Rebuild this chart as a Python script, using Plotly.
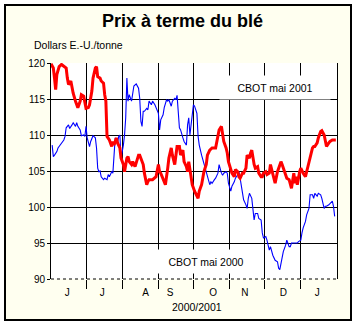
import pandas as pd
import plotly.graph_objects as go

# Wheat futures, CBOT May 2001 (red) and CBOT May 2000 (blue), US$/tonne
start = pd.Timestamp("2000-06-01")

red_day = [
    0, 2, 3, 4, 5, 7, 9, 11, 13, 14,
    15, 17, 18, 19, 21, 22, 23, 25, 26, 28,
    29, 30, 32, 33, 35, 36, 38, 39, 40, 42,
    43, 45, 46, 47, 48, 50, 52, 53, 54, 56,
    57, 59, 60, 62, 63, 65, 66, 67, 69, 70,
    72, 75, 76, 77, 79, 80, 82, 83, 84, 87,
    90, 92, 93, 94, 96, 98, 100, 101, 103, 104,
    106, 107, 108, 110, 111, 113, 114, 116, 117, 118,
    120, 121, 123, 124, 126, 127, 129, 130, 131, 133,
    134, 136, 138, 141, 143, 144, 146, 148, 150, 151,
    152, 154, 155, 157, 158, 160, 161, 162, 164, 165,
    167, 168, 170, 171, 172, 174, 175, 177, 178, 180,
    181, 182, 184, 185, 187, 188, 190, 191, 192, 194,
    195, 197, 198, 199, 201, 202, 204, 205, 206, 208,
    209, 210, 211, 213, 214, 216, 218, 219, 221, 222,
    224, 225, 226, 228, 229, 231, 232, 234, 235, 236,
    238, 239, 241, 242, 244,
]
red_val = [
    119.9, 119.3, 117.9, 116.3, 118.4, 119.5, 119.8, 119.5, 119.3, 117.9,
    117.0, 117.5, 116.3, 115.8, 114.7, 114.2, 113.8, 114.7, 115.6, 115.4,
    114.4, 113.7, 113.8, 114.2, 116.1, 117.9, 119.3, 119.5, 118.1, 117.9,
    117.5, 117.2, 115.6, 114.7, 109.8, 109.3, 108.4, 109.1, 108.6, 109.6,
    108.9, 108.2, 106.8, 105.9, 104.9, 106.8, 107.0, 106.3, 105.9, 106.3,
    105.6, 107.2, 107.2, 106.8, 105.9, 104.7, 103.1, 103.5, 103.8, 103.8,
    104.2, 105.9, 104.9, 104.7, 103.8, 103.1, 105.4, 106.8, 108.2, 107.2,
    105.9, 107.2, 108.4, 108.4, 107.2, 107.9, 106.3, 105.6, 104.9, 106.3,
    104.0, 103.1, 102.2, 101.9, 101.2, 102.2, 103.1, 104.0, 104.9, 105.9,
    107.2, 107.9, 108.2, 108.2, 109.6, 110.7, 111.2, 109.1, 108.2, 107.5,
    106.3, 105.4, 104.7, 104.2, 105.2, 104.9, 104.2, 104.0, 104.7, 104.7,
    105.4, 107.2, 106.8, 107.5, 107.9, 105.9, 105.4, 105.6, 104.7, 104.2,
    104.2, 104.7, 104.9, 104.5, 104.7, 105.9, 104.7, 103.8, 103.3, 104.9,
    105.4, 106.3, 105.9, 105.4, 104.5, 104.0, 103.8, 103.3, 102.6, 104.7,
    103.3, 104.2, 103.1, 104.9, 105.4, 104.7, 104.2, 104.9, 106.3, 107.2,
    108.2, 108.4, 108.4, 108.9, 109.6, 110.5, 110.6, 110.0, 109.1, 108.4,
    108.9, 109.1, 109.3, 109.3, 109.3,
]

blue_day = [
    1, 2, 3, 5, 6, 8, 9, 11, 12, 13,
    15, 16, 18, 19, 21, 22, 23, 25, 26, 28,
    29, 30, 31, 33, 34, 35, 36, 38, 39, 40,
    41, 42, 43, 45, 46, 48, 49, 50, 52, 53,
    54, 55, 57, 58, 59, 60, 62, 63, 64, 65,
    66, 67, 69, 70, 71, 73, 75, 76, 77, 78,
    79, 80, 82, 83, 84, 86, 87, 89, 90, 92,
    93, 94, 96, 97, 99, 100, 101, 103, 104, 106,
    107, 108, 110, 111, 113, 114, 116, 117, 118, 119,
    120, 122, 123, 125, 126, 127, 129, 130, 131, 133,
    134, 136, 137, 138, 140, 141, 143, 144, 146, 147,
    148, 150, 151, 152, 154, 155, 157, 158, 160, 161,
    162, 164, 165, 167, 168, 169, 170, 172, 173, 174,
    175, 177, 178, 180, 181, 182, 184, 185, 187, 188,
    190, 191, 192, 194, 195, 196, 198, 199, 201, 202,
    204, 205, 206, 208, 211, 212, 214, 215, 216, 218,
    219, 221, 222, 224, 225, 226, 228, 229, 231, 232,
    234, 235, 236, 238, 239, 241, 242, 243,
]
blue_val = [
    108.6, 107.0, 107.2, 107.7, 108.2, 108.6, 108.9, 109.3, 109.8, 111.0,
    111.4, 110.9, 111.4, 111.7, 111.2, 111.7, 111.2, 110.7, 109.9, 110.0,
    109.8, 111.2, 109.6, 108.4, 109.1, 109.6, 109.9, 109.6, 108.2, 105.4,
    104.9, 105.0, 104.2, 103.8, 104.0, 103.8, 104.5, 104.2, 104.9, 104.7,
    106.8, 109.6, 108.9, 109.8, 110.0, 106.8, 108.6, 110.0, 112.4, 117.9,
    114.7, 115.6, 114.7, 116.1, 116.8, 117.1, 116.5, 115.1, 111.9, 111.2,
    113.3, 113.3, 113.7, 113.5, 114.7, 114.2, 114.7, 114.2, 113.7, 113.0,
    110.7, 112.1, 112.8, 113.8, 114.9, 114.7, 114.9, 114.0, 114.7, 115.1,
    114.9, 115.5, 111.0, 110.7, 109.6, 109.1, 108.6, 111.4, 112.4, 110.0,
    111.4, 114.2, 114.0, 113.0, 109.8, 108.6, 107.2, 106.6, 105.9, 104.5,
    104.2, 103.1, 103.5, 103.3, 103.8, 104.0, 104.7, 105.9, 104.7, 104.4,
    104.7, 104.9, 104.7, 103.3, 102.2, 102.9, 103.5, 104.0, 104.5, 104.9,
    104.0, 102.2, 101.0, 100.3, 99.8, 101.2, 101.9, 101.2, 99.4, 98.2,
    99.1, 99.1, 98.4, 98.2, 96.4, 95.7, 95.9, 95.4, 94.0, 94.5,
    93.3, 92.9, 92.6, 92.4, 91.5, 91.3, 92.9, 93.8, 94.7, 95.4,
    94.5, 94.5, 95.0, 95.0, 95.0, 95.2, 95.4, 96.4, 97.1, 98.0,
    98.9, 99.8, 101.7, 101.7, 101.2, 101.9, 101.5, 101.9, 101.7, 101.2,
    99.8, 100.1, 100.1, 100.3, 100.5, 100.8, 100.1, 98.7,
]

month_labels = ["J", "J", "A", "S", "O", "N", "D", "J"]
month_label_dates = ["2000-06-15", "2000-07-15", "2000-08-21", "2000-09-11",
                     "2000-10-18", "2000-11-14", "2000-12-17", "2001-01-15"]
month_starts = [d.strftime("%Y-%m-%d")
                for d in pd.date_range("2000-07-01", "2001-01-01", freq="MS")]
y_ticks = [90, 95, 100, 105, 110, 115, 120]

red_x = start + pd.to_timedelta(red_day, unit="D")
blue_x = start + pd.to_timedelta(blue_day, unit="D")

W, H = 356, 325
L, R, T, B = 51, 19, 63, 46
PW, PH = W - L - R, H - T - B


def fx(p):
    return (p - L) / PW


def fy(p):
    return (H - B - p) / PH


FONT = "Arial, Liberation Sans, sans-serif"

fig = go.Figure()
fig.add_trace(go.Scatter(x=blue_x, y=blue_val, mode="lines",
                         line=dict(color="#0000FF", width=1.1),
                         name="CBOT mai 2000"))
fig.add_trace(go.Scatter(x=red_x, y=red_val, mode="lines",
                         line=dict(color="#FF0000", width=3),
                         name="CBOT mai 2001"))

fig.update_layout(
    width=W, height=H,
    margin=dict(l=L, r=R, t=T, b=B, pad=0),
    paper_bgcolor="white", plot_bgcolor="white",
    showlegend=False,
    font=dict(family=FONT, color="black", size=10),
    xaxis=dict(
        type="date",
        range=["2000-06-01", "2001-02-01"],
        tickmode="array", tickvals=month_label_dates, ticktext=month_labels,
        ticks="outside", ticklen=4, tickcolor="rgba(0,0,0,0)",
        showgrid=False, showline=False, zeroline=False,
        tickfont=dict(size=10, color="black"),
        minor=dict(tickmode="array", tickvals=month_starts,
                   showgrid=True, gridcolor="black", gridwidth=1,
                   ticks="outside", ticklen=9, tickcolor="black", tickwidth=1),
    ),
    yaxis=dict(
        range=[90, 120],
        tickmode="array", tickvals=y_ticks,
        ticks="outside", ticklen=3, tickcolor="black",
        showgrid=False, zeroline=False,
        showline=True, linecolor="black", linewidth=1, mirror=True,
        tickfont=dict(size=10, color="black"),
        minor=dict(tickmode="array", tickvals=y_ticks[1:],
                   showgrid=True, gridcolor="black", gridwidth=1, ticks=""),
    ),
    shapes=[
        # outer cream panel with black frame
        dict(type="rect", xref="paper", yref="paper",
             x0=fx(5), x1=fx(351), y0=fy(320), y1=fy(5),
             fillcolor="#FFFFF0", line=dict(color="black", width=2),
             layer="below"),
        # white plotting area
        dict(type="rect", xref="paper", yref="paper",
             x0=0, x1=1, y0=0, y1=1,
             fillcolor="white", line=dict(width=0), layer="below"),
        # dotted baseline at 90
        dict(type="line", xref="paper", yref="paper",
             x0=0, x1=1, y0=0, y1=0,
             line=dict(color="black", width=1, dash="dot"), layer="above"),
    ],
    annotations=[
        dict(text="<b>Prix à terme du blé</b>", xref="paper", yref="paper",
             x=fx(182), y=fy(21), xanchor="center", yanchor="middle",
             showarrow=False, font=dict(size=18, family=FONT, color="black")),
        dict(text="Dollars E.-U./tonne", xref="paper", yref="paper",
             x=fx(32), y=fy(45), xanchor="left", yanchor="middle",
             showarrow=False, font=dict(size=10.5, family=FONT, color="black")),
        dict(text="2000/2001", xref="paper", yref="paper",
             x=fx(197), y=fy(307), xanchor="center", yanchor="middle",
             showarrow=False, font=dict(size=10.5, family=FONT, color="black")),
        dict(text="CBOT mai 2001", xref="paper", yref="paper",
             x=fx(275), y=fy(87.5), xanchor="center", yanchor="middle",
             width=108, height=21, bgcolor="white", borderpad=1,
             showarrow=False, font=dict(size=10.5, family=FONT, color="black")),
        dict(text="CBOT mai 2000", xref="paper", yref="paper",
             x=fx(206), y=fy(261.5), xanchor="center", yanchor="middle",
             width=108, height=21, bgcolor="white", borderpad=1,
             showarrow=False, font=dict(size=10.5, family=FONT, color="black")),
    ],
)

fig.write_html("out.html")
